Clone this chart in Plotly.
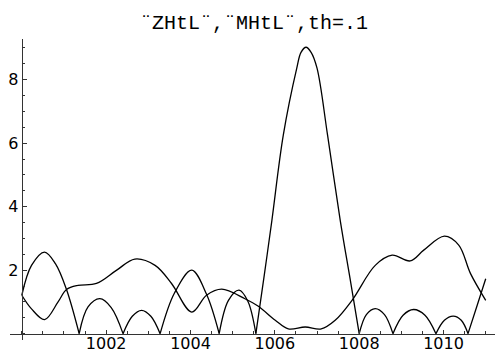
import plotly.graph_objects as go

# Curve with |.| cusps (the big peak curve)
a_x = [1000.00, 1000.23, 1000.54, 1000.80, 1001.06, 1001.36, 1001.57, 1001.85, 1002.12, 1002.40,
       1002.62, 1002.84, 1003.06, 1003.28, 1003.62, 1004.03, 1004.38, 1004.68, 1004.90, 1005.15,
       1005.36, 1005.55, 1005.75, 1005.93, 1006.20, 1006.52, 1006.62, 1006.74, 1006.86, 1007.00,
       1007.25, 1007.55, 1007.80, 1008.00, 1008.17, 1008.38, 1008.60, 1008.80, 1009.04, 1009.29,
       1009.56, 1009.82, 1010.02, 1010.23, 1010.42, 1010.58, 1010.80, 1011.00]
a_y = [1.21, 2.15, 2.57, 2.20, 1.39, 0.0, 0.84, 1.10, 0.82, 0.0,
       0.55, 0.735, 0.55, 0.0, 1.28, 2.0, 1.24, 0.0, 1.05, 1.37,
       1.02, 0.0, 1.85, 3.57, 6.25, 8.36, 8.86, 9.02, 8.86, 8.36,
       6.25, 3.57, 1.6, 0.0, 0.6, 0.79, 0.6, 0.0, 0.58, 0.76,
       0.58, 0.0, 0.42, 0.55, 0.42, 0.0, 0.9, 1.73]

# Smooth curve
b_x = [1000.00, 1000.23, 1000.54, 1000.86, 1001.06, 1001.33, 1001.77, 1002.25, 1002.68, 1003.16,
       1003.55, 1004.03, 1004.38, 1004.74, 1005.29, 1005.60, 1006.01, 1006.32, 1006.72, 1007.10,
       1007.43, 1007.83, 1008.38, 1008.78, 1009.21, 1009.53, 1010.02, 1010.36, 1010.64, 1011.00]
b_y = [1.21, 0.78, 0.44, 1.0, 1.39, 1.52, 1.58, 2.0, 2.35, 2.15,
       1.58, 0.68, 1.21, 1.40, 1.10, 0.87, 0.42, 0.15, 0.21, 0.15,
       0.42, 1.05, 2.15, 2.47, 2.29, 2.63, 3.07, 2.79, 1.89, 1.05]

x_ticks = [1002, 1004, 1006, 1008, 1010]
y_ticks = [2, 4, 6, 8]
title_text = "¨ZHtL¨,¨MHtL¨,th=.1"

X_RANGE = [999.72, 1011.22]
Y_RANGE = [-0.2, 9.28]

fig = go.Figure()

# split the cusp curve at its zeros so each arch is its own smooth piece
segs = []
cur_x, cur_y = [], []
for x, y in zip(a_x, a_y):
    cur_x.append(x)
    cur_y.append(y)
    if y == 0 and len(cur_x) > 1:
        segs.append((cur_x, cur_y))
        cur_x, cur_y = [x], [y]
if len(cur_x) > 1:
    segs.append((cur_x, cur_y))

line_style = dict(color="black", width=1.3, shape="spline", smoothing=1.0)
for sx, sy in segs:
    fig.add_trace(go.Scatter(x=sx, y=sy, mode="lines", line=line_style,
                             showlegend=False, hoverinfo="skip"))

fig.add_trace(go.Scatter(x=b_x, y=b_y, mode="lines", line=line_style,
                         showlegend=False, hoverinfo="skip"))

xpos = (0 - Y_RANGE[0]) / (Y_RANGE[1] - Y_RANGE[0])
ypos = (1000 - X_RANGE[0]) / (X_RANGE[1] - X_RANGE[0])

axis_col = "#333333"
tick_font = dict(family="DejaVu Sans, Liberation Sans, sans-serif", size=16, color="black")

fig.update_layout(
    width=498, height=353,
    margin=dict(l=10, r=3, t=39, b=13, autoexpand=False),
    paper_bgcolor="white", plot_bgcolor="white",
    title=dict(text=title_text, x=0.51, xref="container", xanchor="center",
               y=1 - 22 / 353, yref="container", yanchor="middle",
               font=dict(family="Liberation Mono, Courier New, monospace", size=20, color="black")),
    xaxis=dict(range=X_RANGE, showgrid=False, zeroline=False,
               anchor="free", position=xpos, showline=True, linecolor=axis_col, linewidth=1.1,
               tickmode="array", tickvals=x_ticks, ticks="inside", ticklen=4, tickwidth=1,
               tickcolor=axis_col, tickfont=tick_font, automargin=False,
               ticklabelstandoff=-5,
               minor=dict(tickmode="linear", tick0=1000, dtick=0.5, ticks="inside",
                          ticklen=2.5, tickwidth=1, tickcolor=axis_col, showgrid=False)),
    yaxis=dict(range=Y_RANGE, showgrid=False, zeroline=False,
               anchor="free", position=ypos, showline=True, linecolor=axis_col, linewidth=1.1,
               tickmode="array", tickvals=y_ticks, ticks="inside", ticklen=4, tickwidth=1,
               tickcolor=axis_col, tickfont=tick_font, automargin=False,
               minor=dict(tickmode="linear", tick0=0, dtick=0.5, ticks="inside",
                          ticklen=2.5, tickwidth=1, tickcolor=axis_col, showgrid=False)),
)

fig.write_html("out.html")
